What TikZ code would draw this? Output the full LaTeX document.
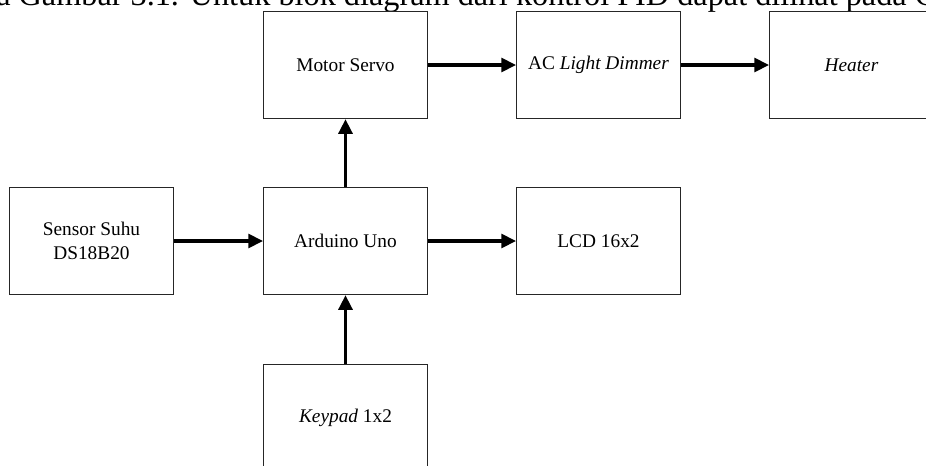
\documentclass[tikz,border=0pt]{standalone}
\usepackage{fontspec}
\setmainfont{Liberation Serif}
\usetikzlibrary{arrows.meta}
\begin{document}
\begin{tikzpicture}[x=0.75pt,y=-0.75pt,
  blok/.style={draw=black!85, line width=0.8pt, minimum width=123pt, minimum height=80.5pt,
    inner sep=0pt, align=center, font=\fontsize{14.5}{18}\selectfont},
  panah/.style={line width=2.3pt, -{Triangle[length=11pt,width=10.5pt]}}]
\useasboundingbox (0,0) rectangle (926,465);
\clip (0,0) rectangle (926,465);
\node[anchor=base west, inner sep=0pt, font=\fontsize{24.2}{28}\selectfont] (cap) at (-4,5)
  {a Gambar 3.1. Untuk blok diagram dari kontrol PID dapat dilihat pada G};
\node[blok] (sensor) at (91.5,241) {Sensor Suhu\\DS18B20};
\node[blok] (arduino) at (345.5,241) {Arduino Uno};
\node[blok] (lcd) at (598.5,241) {LCD 16x2};
\node[blok] (motor) at (345.5,65) {Motor Servo};
\node[blok] (ac) at (598.5,65) {AC \textit{Light Dimmer}};
\node[blok] (heater) at (851.5,65) {\textit{Heater}};
\node[blok] (keypad) at (345.5,418) {\textit{Keypad} 1x2};
\draw[panah] (sensor.east) -- (arduino.west);
\draw[panah] (arduino.east) -- (lcd.west);
\draw[panah] (arduino.north) -- (motor.south);
\draw[panah] (keypad.north) -- (arduino.south);
\draw[panah] (motor.east) -- (ac.west);
\draw[panah] (ac.east) -- (heater.west);
\end{tikzpicture}
\end{document}
